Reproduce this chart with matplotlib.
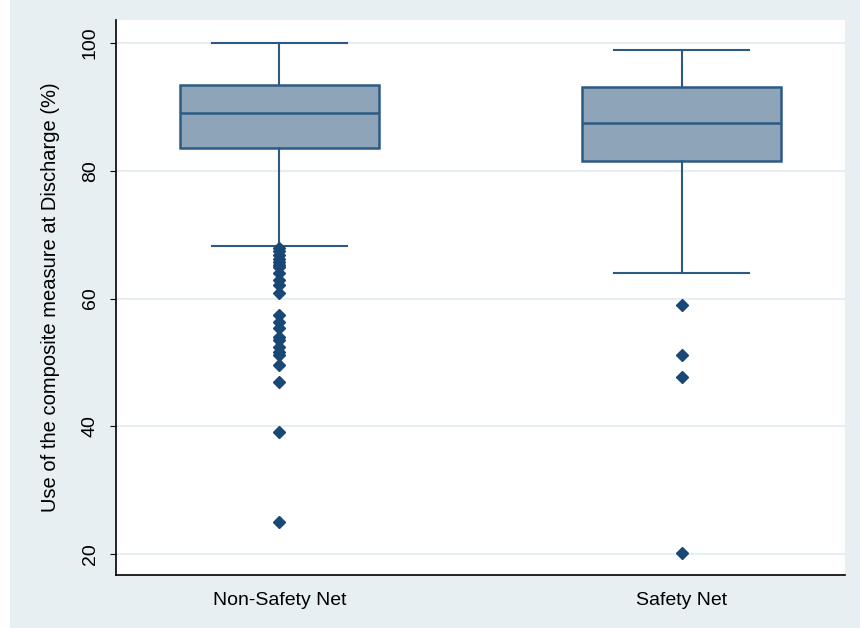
# Box plot of composite measure use at discharge, by safety-net status
import matplotlib.pyplot as plt
from matplotlib.patches import Rectangle

groups = ['Non-Safety Net', 'Safety Net']
medians = [89.0, 87.5]
q1 = [83.6, 81.5]
q3 = [93.4, 93.1]
whisker_low = [68.2, 64.0]
whisker_high = [100.0, 98.9]
outliers_non_sn = [67.9, 67.4, 66.8, 66.2, 65.7, 65.2, 64.9, 64.0, 62.9, 62.1, 60.9,
                   57.4, 56.3, 55.4, 54.0, 53.5, 52.4, 51.6, 51.2, 49.6, 46.9, 39.1, 25.0]
outliers_sn = [59.0, 51.2, 47.7, 20.2]
yticks = [20, 40, 60, 80, 100]

bg = '#e8eff2'
line_col = '#2c5a85'
fill_col = '#8ea4b8'
dot_col = '#1a4876'

plt.rcParams['font.family'] = ['Liberation Sans', 'DejaVu Sans']

fig = plt.figure(figsize=(8.6, 6.28), dpi=100, facecolor='white')
fig.patches.append(Rectangle((10 / 860, 0), 1, 1, transform=fig.transFigure,
                             facecolor=bg, edgecolor='none', zorder=-10))
ax = fig.add_axes([116 / 860, 1 - 575 / 628, (845 - 116) / 860, (575 - 20) / 628])
ax.set_facecolor('white')

stats = []
for i, name in enumerate(groups):
    stats.append({
        'label': name,
        'med': medians[i],
        'q1': q1[i],
        'q3': q3[i],
        'whislo': whisker_low[i],
        'whishi': whisker_high[i],
        'fliers': [outliers_non_sn, outliers_sn][i],
    })

ax.bxp(stats, positions=[1, 2], widths=0.495, patch_artist=True, showfliers=True,
       boxprops=dict(facecolor=fill_col, edgecolor=line_col, linewidth=1.8),
       medianprops=dict(color=line_col, linewidth=1.8),
       whiskerprops=dict(color=line_col, linewidth=1.5),
       capprops=dict(color=line_col, linewidth=1.5),
       capwidths=0.334,
       flierprops=dict(marker='D', markersize=6, markerfacecolor=dot_col,
                       markeredgecolor=dot_col, linestyle='none'))

ax.set_xlim(0.594, 2.406)
ax.set_ylim(16.75, 103.6)
ax.set_yticks(yticks)
ax.set_yticklabels([str(t) for t in yticks], rotation=90, va='center', fontsize=14)
ax.tick_params(axis='y', length=4.3, direction='out', pad=8, color='black')
ax.tick_params(axis='x', length=0, pad=12, labelsize=14)
ax.set_ylabel('Use of the composite measure at Discharge (%)', fontsize=14.5, labelpad=16)
ax.yaxis.grid(True, color='#e6eef1', linewidth=1.5)
ax.set_axisbelow(True)
for side in ['top', 'right']:
    ax.spines[side].set_visible(False)
for side in ['left', 'bottom']:
    ax.spines[side].set_color('black')
    ax.spines[side].set_linewidth(1.2)

fig.savefig('out.png', dpi=100, facecolor=fig.get_facecolor())
